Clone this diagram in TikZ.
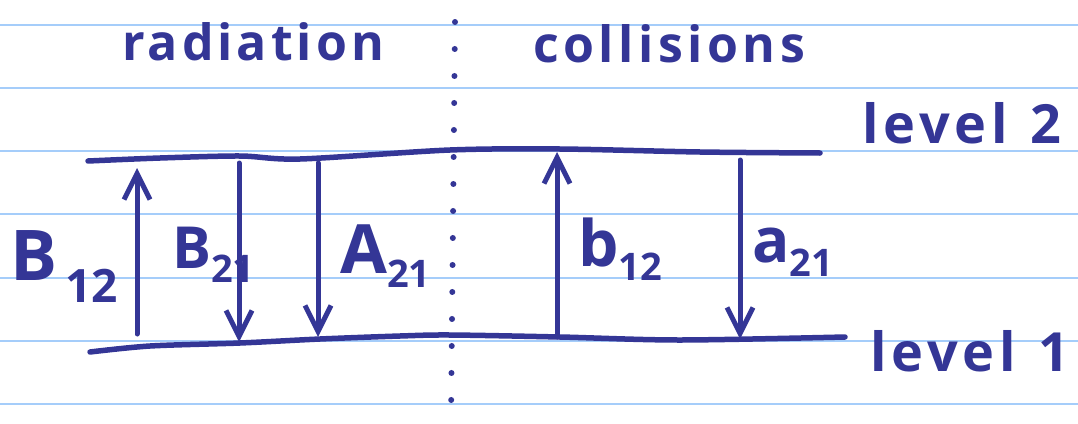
\documentclass[tikz,border=0pt]{standalone}
\usepackage{fontspec}
\setmainfont{Open Sans}
\usetikzlibrary{arrows.meta}
\definecolor{InkBlue}{RGB}{52,54,150}
\definecolor{RuleBlue}{RGB}{165,205,250}

\tikzset{
  rule/.style={RuleBlue, line width=2pt},
  levelline/.style={InkBlue, line width=5.5pt, line cap=round},
  trans/.style={InkBlue, line width=5pt, line cap=round,
    -{Straight Barb[length=26pt,width=26pt,line width=5pt]}},
  hand/.style={InkBlue, inner sep=0pt, font=\bfseries\fontsize{50}{56}\selectfont},
}
\newcommand\handsub[2]{#1\raisebox{-14pt}{\fontsize{38}{38}\selectfont #2}}

\begin{document}
\begin{tikzpicture}[x=1pt,y=-1pt]
  \useasboundingbox (0,0) rectangle (1078,423);
  % ruled paper
  \foreach \y in {25,88,151,214,278,341,404}
    \draw[rule] (0,\y) -- (1078,\y);
  % separator
  \draw[InkBlue, line width=6pt, line cap=round, dash pattern=on 0pt off 27pt]
    (455,22) -- (451,420);
  % the two levels
  \draw[levelline] plot[smooth,tension=0.5] coordinates
    {(88,161) (160,158) (240,156) (300,159) (450,150) (560,149) (700,152) (820,153)};
  \draw[levelline] plot[smooth,tension=0.5] coordinates
    {(90,352) (150,346) (240,343) (320,339) (400,336) (450,335) (560,337) (680,340) (845,337)};
  % end points of the transitions
  \coordinate (B12lo) at (137,334);  \coordinate (B12hi) at (137,168);
  \coordinate (B21hi) at (239,163);  \coordinate (B21lo) at (239,342);
  \coordinate (A21hi) at (318,163);  \coordinate (A21lo) at (318,337);
  \coordinate (b12lo) at (557,337);  \coordinate (b12hi) at (557,152);
  \coordinate (a21hi) at (740,160);  \coordinate (a21lo) at (740,339);
  \draw[trans] (B12lo) -- (B12hi);
  \draw[trans] (B21hi) -- (B21lo);
  \draw[trans] (A21hi) -- (A21lo);
  \draw[trans] (b12lo) -- (b12hi);
  \draw[trans] (a21hi) -- (a21lo);
  % labels
  \node[hand, anchor=base west] (rad) at (122,60)
    {\addfontfeatures{LetterSpace=8}radiation};
  \node[hand, anchor=base west] (col) at (533,62)
    {\addfontfeatures{LetterSpace=9}collisions};
  \node[hand, anchor=base west, font=\bfseries\fontsize{54}{60}\selectfont] (lv2) at (862,143)
    {\addfontfeatures{LetterSpace=9}level\hspace{22pt}2};
  \node[hand, anchor=base west, font=\bfseries\fontsize{54}{60}\selectfont] (lv1) at (870,371)
    {\addfontfeatures{LetterSpace=9}level\hspace{22pt}1};
  \node[hand, anchor=base west, font=\bfseries\fontsize{70}{70}\selectfont] (lB12) at (10,280)
    {B\hspace{8pt}\raisebox{-22pt}{\fontsize{46}{46}\selectfont 12}};
  \node[hand, anchor=base west, font=\bfseries\fontsize{58}{58}\selectfont] (lB21) at (172,268)
    {\handsub{B}{21}};
  \node[hand, anchor=base west, font=\bfseries\fontsize{68}{68}\selectfont] (lA21) at (340,273)
    {\handsub{A}{21}};
  \node[hand, anchor=base west, font=\bfseries\fontsize{64}{64}\selectfont] (lb12) at (578,266)
    {\handsub{b}{12}};
  \node[hand, anchor=base west, font=\bfseries\fontsize{62}{62}\selectfont] (la21) at (752,262)
    {\handsub{a}{21}};
\end{tikzpicture}
\end{document}
